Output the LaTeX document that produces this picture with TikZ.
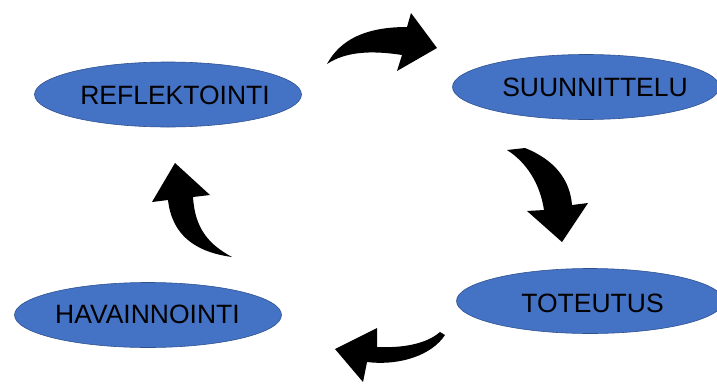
\documentclass[tikz,border=0pt]{standalone}
\usepackage{fontspec}
\setmainfont{Liberation Sans}
\usetikzlibrary{shapes.geometric}
\definecolor{phasefill}{HTML}{4472C4}
\definecolor{phaseline}{HTML}{2F528F}
\tikzset{
  phase/.style={ellipse, draw=phaseline, line width=0.6pt, fill=phasefill,
    minimum width=267pt, minimum height=65pt, inner sep=0pt},
  phaselabel/.style={font=\fontsize{26.5}{30}\selectfont, text=black, inner sep=0pt},
  bendarrow/.style={fill=black, draw=none}
}
\begin{document}
\begin{tikzpicture}[x=1pt,y=-1pt]
\useasboundingbox (0,0) rectangle (717,383);

% the four phases
\node[phase] (refl) at (168,94.5) {};
\node[phaselabel] (refltext) at (175,95) {REFLEKTOINTI};

\node[phase] (suun) at (586,87) {};
\node[phaselabel] (suuntext) at (595,87.5) {SUUNNITTELU};

\node[phase] (tote) at (590,301) {};
\node[phaselabel] (totetext) at (592.5,303) {TOTEUTUS};

\node[phase] (hava) at (148,315) {};
\node[phaselabel] (havatext) at (147.5,314) {HAVAINNOINTI};

% top arrow
\fill[bendarrow] (327,64) .. controls (340,40) and (365,27) .. (407,27)
  -- (411,13) -- (437,48) -- (397,71) -- (402,55)
  .. controls (370,50) and (345,52) .. cycle;

% right arrow
\fill[bendarrow] (507,150) -- (525,148) .. controls (555,160) and (570,180) .. (572,205)
  -- (588,203) -- (562,242) -- (527,211) -- (544,210)
  .. controls (540,183) and (526,162) .. cycle;

% bottom arrow
\fill[bendarrow] (445,335) -- (440,332) .. controls (425,345) and (400,348) .. (377,347)
  -- (377,328) -- (335,349) -- (363,382) -- (367,362)
  .. controls (400,366) and (432,355) .. cycle;

% left arrow
\fill[bendarrow] (232,257) .. controls (210,245) and (195,230) .. (193,197)
  -- (210,195) -- (175,163) -- (152,202) -- (168,200)
  .. controls (172,235) and (195,252) .. cycle;
\end{tikzpicture}
\end{document}
